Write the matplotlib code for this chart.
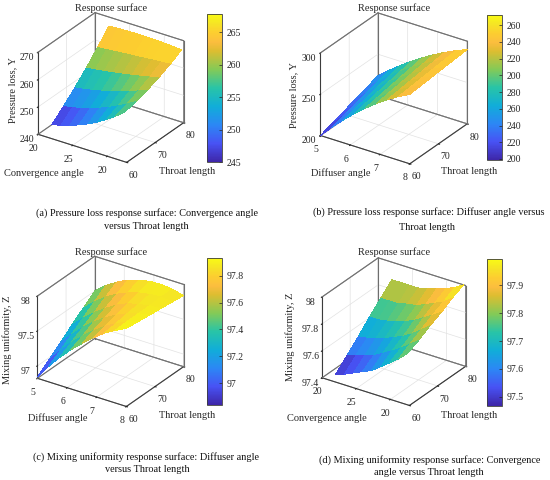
import numpy as np
import matplotlib
matplotlib.use("Agg")
import matplotlib.pyplot as plt
from matplotlib.colors import LinearSegmentedColormap, Normalize
from matplotlib.cm import ScalarMappable
from mpl_toolkits.mplot3d import proj3d

# ---- data ----
conv_angle = [22.0, 23.3, 24.6, 25.9, 27.25, 28.6, 29.9, 31.2, 32.5]
diff_angle = [5.0, 5.375, 5.75, 6.125, 6.5, 6.875, 7.25, 7.625, 8.0]
throat_len = [60, 64, 68, 72, 76, 80]

# rows = throat length, columns = angle
pressure_conv = [
    [245.20, 245.94, 246.94, 248.18, 249.67, 251.40, 253.39, 255.62, 258.10],
    [248.83, 249.46, 250.28, 251.29, 252.48, 253.86, 255.41, 257.16, 259.09],
    [252.79, 253.32, 253.97, 254.74, 255.63, 256.64, 257.78, 259.04, 260.41],
    [257.09, 257.51, 257.99, 258.53, 259.12, 259.77, 260.48, 261.25, 262.07],
    [261.73, 262.04, 262.35, 262.65, 262.94, 263.23, 263.52, 263.79, 264.07],
    [266.70, 266.90, 267.04, 267.10, 267.10, 267.03, 266.89, 266.68, 266.40]]
pressure_diff = [
    [200.00, 214.01, 227.02, 239.03, 250.04, 260.05, 269.05, 277.06, 284.06],
    [204.80, 218.18, 230.62, 242.10, 252.63, 262.21, 270.84, 278.52, 285.24],
    [209.60, 222.35, 234.21, 245.17, 255.22, 264.37, 272.62, 279.98, 286.42],
    [214.40, 226.53, 237.81, 248.23, 257.81, 266.54, 274.41, 281.43, 287.61],
    [219.20, 230.70, 241.40, 251.30, 260.40, 268.70, 276.19, 282.89, 288.79],
    [224.00, 234.87, 245.00, 254.37, 262.99, 270.86, 277.98, 284.35, 289.97]]
mixing_diff = [
    [96.84, 97.04, 97.22, 97.38, 97.52, 97.65, 97.77, 97.86, 97.94],
    [96.97, 97.15, 97.32, 97.46, 97.59, 97.70, 97.79, 97.87, 97.92],
    [97.10, 97.27, 97.42, 97.55, 97.66, 97.75, 97.82, 97.87, 97.90],
    [97.24, 97.39, 97.52, 97.63, 97.73, 97.80, 97.84, 97.87, 97.88],
    [97.37, 97.51, 97.63, 97.72, 97.79, 97.84, 97.87, 97.88, 97.86],
    [97.50, 97.63, 97.73, 97.81, 97.86, 97.89, 97.90, 97.88, 97.84]]
mixing_conv = [
    [97.46, 97.48, 97.51, 97.54, 97.57, 97.62, 97.67, 97.72, 97.78],
    [97.54, 97.56, 97.58, 97.60, 97.64, 97.68, 97.72, 97.77, 97.82],
    [97.62, 97.63, 97.65, 97.67, 97.70, 97.73, 97.77, 97.82, 97.87],
    [97.71, 97.71, 97.72, 97.74, 97.76, 97.79, 97.83, 97.87, 97.91],
    [97.79, 97.79, 97.79, 97.81, 97.82, 97.85, 97.88, 97.91, 97.96],
    [97.87, 97.87, 97.87, 97.87, 97.89, 97.91, 97.93, 97.96, 98.00]]

conv_ticks = [20, 25, 30]
conv_ticklabels = ["20", "25", "20"]
diff_ticks = [5, 6, 7, 8]
throat_ticks = [60, 70, 80]
cb_b_labels = ["200", "220", "240", "260", "280", "200", "220", "240", "260"]

captions = [
    ["(a) Pressure loss response surface: Convergence angle", "versus Throat length"],
    ["(b) Pressure loss response surface: Diffuser angle versus", "Throat length"],
    ["(c) Mixing uniformity response surface: Diffuser angle", "versus Throat length"],
    ["(d) Mixing uniformity response surface: Convergence", "angle versus Throat length"],
]

parula = LinearSegmentedColormap.from_list("parula", [
    (0.000, (0.2422, 0.1504, 0.6603)),
    (0.125, (0.2810, 0.3228, 0.9579)),
    (0.250, (0.1707, 0.5314, 0.9591)),
    (0.375, (0.0650, 0.6794, 0.8497)),
    (0.500, (0.1574, 0.7689, 0.6541)),
    (0.625, (0.5153, 0.7924, 0.3418)),
    (0.750, (0.8630, 0.7432, 0.1912)),
    (0.810, (0.9853, 0.7418, 0.2458)),
    (0.875, (0.9896, 0.8063, 0.1896)),
    (0.940, (0.9620, 0.8986, 0.1430)),
    (1.000, (0.9769, 0.9839, 0.0805)),
])

plt.rcParams["font.family"] = ["Liberation Serif", "DejaVu Serif"]
plt.rcParams["grid.color"] = "#e2e2e2"
plt.rcParams["grid.linewidth"] = 0.5
TXT = "#262626"
EDGE = "#3c3c3c"
BOX = "#6e6e6e"
W, H = 550, 480

fig = plt.figure(figsize=(5.5, 4.8), dpi=100)


def frac(x0, y0, x1, y1):
    # pixel box (top-left origin) -> figure fraction rect
    return [x0 / W, 1 - y1 / H, (x1 - x0) / W, (y1 - y0) / H]


panels = [
    dict(x=conv_angle, z=pressure_conv, xlim=(20, 32.8), zlim=(240, 270),
         xt=conv_ticks, xtl=conv_ticklabels, zt=[240, 250, 260, 270], ztl=None,
         vmin=245.0, vmax=267.8, cbt=[245, 250, 255, 260, 265], cbtl=None,
         box=(37.7, 13, 184, 162), cb=(207, 14, 222, 162),
         zlab="Pressure loss, Y", xlab="Convergence angle"),
    dict(x=diff_angle, z=pressure_diff, xlim=(5, 8), zlim=(200, 300),
         xt=diff_ticks, xtl=None, zt=[200, 250, 300], ztl=None,
         vmin=200, vmax=300, cbt=list(np.linspace(200.7, 293, 9)), cbtl=cb_b_labels,
         box=(320, 13.4, 467.7, 163.3), cb=(487, 15, 502, 160),
         zlab="Pressure loss, Y", xlab="Diffuser angle"),
    dict(x=diff_angle, z=mixing_diff, xlim=(5, 8), zlim=(96.82, 98),
         xt=diff_ticks, xtl=None, zt=[97, 97.5, 98], ztl=["97", "97.5", "98"],
         vmin=96.84, vmax=97.93, cbt=[97, 97.2, 97.4, 97.6, 97.8],
         cbtl=["97", "97.2", "97.4", "97.6", "97.8"],
         box=(36.7, 257, 184.3, 405.7), cb=(207, 258, 222, 405),
         zlab="Mixing uniformity, Z", xlab="Diffuser angle"),
    dict(x=conv_angle, z=mixing_conv, xlim=(20, 32.8), zlim=(97.4, 98),
         xt=conv_ticks, xtl=conv_ticklabels, zt=[97.4, 97.6, 97.8, 98],
         ztl=["97.4", "97.6", "97.8", "98"],
         vmin=97.468, vmax=97.995, cbt=[97.5, 97.6, 97.7, 97.8, 97.9],
         cbtl=["97.5", "97.6", "97.7", "97.8", "97.9"],
         box=(320, 260, 467.7, 403.3), cb=(487, 259, 502, 405.7),
         zlab="Mixing uniformity, Z", xlab="Convergence angle"),
]

axes = []
for p in panels:
    bx = p["box"]
    ax = fig.add_axes(frac(bx[0], bx[1], bx[2], bx[3]), projection="3d")
    ax.computed_zorder = False
    x0, x1 = p["xlim"]
    z0, z1 = p["zlim"]
    # back edges of the box (MATLAB "back" box style)
    for xs_, ys_, zs_ in [([x0, x0], [60, 80], [z1, z1]), ([x0, x1], [80, 80], [z1, z1]),
                          ([x0, x0], [80, 80], [z0, z1]), ([x1, x1], [80, 80], [z0, z1]),
                          ([x0, x0], [60, 80], [z0, z0]), ([x0, x1], [80, 80], [z0, z0])]:
        ax.plot(xs_, ys_, zs_, color=BOX, lw=0.8, zorder=0.5)
    X, Y = np.meshgrid(p["x"], throat_len)
    norm = Normalize(p["vmin"], p["vmax"])
    ax.plot_surface(X, Y, np.array(p["z"]), cmap=parula, norm=norm,
                    rstride=1, cstride=1, linewidth=0, antialiased=False,
                    shade=False, zorder=1)
    ax.set_proj_type("ortho")
    ax.view_init(elev=28, azim=-56)
    ax.set_box_aspect((107, 102, 93))
    ax.set_xlim(p["xlim"])
    ax.set_ylim(60, 80)
    ax.set_zlim(p["zlim"])
    ax.set_xticks(p["xt"])
    if p["xtl"]:
        ax.set_xticklabels(p["xtl"])
    ax.set_yticks(throat_ticks)
    ax.set_zticks(p["zt"])
    if p["ztl"]:
        ax.set_zticklabels(p["ztl"])
    ax.zaxis.set_ticks_position("lower")
    ax.tick_params(labelsize=7, colors=TXT, pad=-3)
    for a in (ax.xaxis, ax.yaxis, ax.zaxis):
        a.set_pane_color((1, 1, 1, 1))
        a.pane.set_edgecolor(BOX)
        a.pane.set_linewidth(0.6)
        a.line.set_color(EDGE)
        a.line.set_linewidth(0.8)
        a._axinfo["tick"]["inward_factor"] = 0.15
        a._axinfo["tick"]["outward_factor"] = 0.0
        a._axinfo["tick"]["color"] = EDGE
    ax.set_facecolor("none")
    axes.append(ax)

    cx0, cy0, cx1, cy1 = p["cb"]
    cax = fig.add_axes(frac(cx0, cy0, cx1, cy1))
    cbar = fig.colorbar(ScalarMappable(norm=norm, cmap=parula), cax=cax)
    cbar.set_ticks(p["cbt"])
    if p["cbtl"]:
        cbar.set_ticklabels(p["cbtl"])
    cbar.outline.set_edgecolor(EDGE)
    cbar.outline.set_linewidth(0.6)
    cax.tick_params(labelsize=7, colors=TXT, length=2, width=0.5,
                    direction="in", pad=3)

# fit every 3D box onto the pixel box measured in the picture
for _ in range(2):
    fig.canvas.draw()
    for ax, p in zip(axes, panels):
        xl, yl, zl = ax.get_xlim3d(), ax.get_ylim3d(), ax.get_zlim3d()
        pts = np.array([(a, b, c) for a in xl for b in yl for c in zl]).T
        px, py, _ = proj3d.proj_transform(pts[0], pts[1], pts[2], ax.M)
        d = ax.transData.transform(np.column_stack([px, py]))
        mx0, mx1 = d[:, 0].min(), d[:, 0].max()
        my0, my1 = d[:, 1].min(), d[:, 1].max()
        bx = p["box"]
        tx0, tx1 = bx[0], bx[2]
        ty0, ty1 = H - bx[3], H - bx[1]
        k = 0.5 * ((tx1 - tx0) / (mx1 - mx0) + (ty1 - ty0) / (my1 - my0))
        pos = ax.get_position()
        acx = (pos.x0 + pos.width / 2) * W
        acy = (pos.y0 + pos.height / 2) * H
        ncx = (tx0 + tx1) / 2 - k * ((mx0 + mx1) / 2 - acx)
        ncy = (ty0 + ty1) / 2 - k * ((my0 + my1) / 2 - acy)
        nw = pos.width * W * k
        nh = pos.height * H * k
        ax.set_position([(ncx - nw / 2) / W, (ncy - nh / 2) / H, nw / W, nh / H])

# texts: titles, axis labels, captions
title_pos = [(111, 8), (394.5, 8), (111, 252.3), (394.5, 252.3)]
zlab_pos = [(12.7, 90), (293.3, 95), (6.7, 340), (290, 336.7)]
xlab_pos = [(44, 173.3), (340.5, 173.3), (57.8, 418.3), (326.7, 418.3)]
ylab_pos = [(187, 171), (469, 171), (186.7, 415), (469, 415)]
cap_pos = [[(146.5, 213), (146.7, 226.7)], [(429, 212), (426.7, 228)],
           [(146, 457), (147, 470)], [(430, 460), (429, 472.7)]]

for i, p in enumerate(panels):
    fig.text(title_pos[i][0] / W, 1 - title_pos[i][1] / H, "Response surface",
             ha="center", va="center", fontsize=7.5, color=TXT)
    fig.text(zlab_pos[i][0] / W, 1 - zlab_pos[i][1] / H, p["zlab"],
             ha="center", va="center", rotation=90, fontsize=7.5, color=TXT)
    fig.text(xlab_pos[i][0] / W, 1 - xlab_pos[i][1] / H, p["xlab"],
             ha="center", va="center", fontsize=7.5, color=TXT)
    fig.text(ylab_pos[i][0] / W, 1 - ylab_pos[i][1] / H, "Throat length",
             ha="center", va="center", fontsize=7.5, color=TXT)
    for line, (cx, cy) in zip(captions[i], cap_pos[i]):
        fig.text(cx / W, 1 - cy / H, line, ha="center", va="center",
                 fontsize=7.4, color="#111111")

fig.savefig("out.png", dpi=100)
